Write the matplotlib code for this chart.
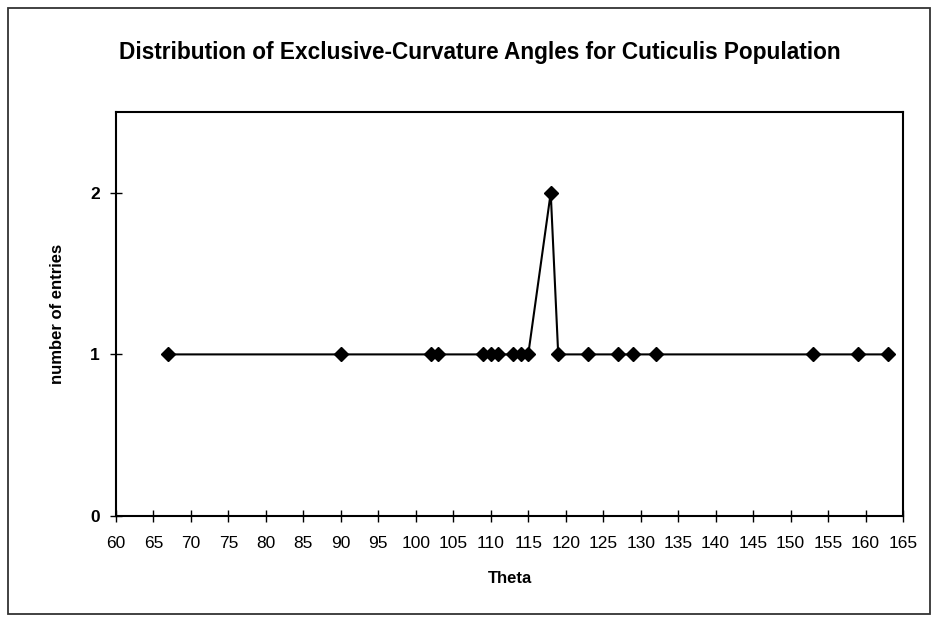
import matplotlib
matplotlib.use("Agg")
import matplotlib.pyplot as plt
from matplotlib.patches import Rectangle
from matplotlib.ticker import FixedLocator

plt.rcParams['font.family'] = ['Liberation Sans', 'DejaVu Sans']

# Angle measurements (degrees) and how many entries fall on each
theta = [67, 90, 102, 103, 109, 110, 111, 113, 114, 115, 118, 119,
         123, 127, 129, 132, 153, 159, 163]
entries = [1, 1, 1, 1, 1, 1, 1, 1, 1, 1, 2, 1,
           1, 1, 1, 1, 1, 1, 1]

x_ticks = list(range(60, 166, 5))
y_ticks = [0, 1, 2]

title = "Distribution of Exclusive-Curvature Angles for Cuticulis Population"
x_label = "Theta"
y_label = "number of entries"

W, H = 936, 619
fig = plt.figure(figsize=(W / 100, H / 100), dpi=100)
fig.patch.set_facecolor("white")

# Outer chart frame
fig.add_artist(Rectangle((8 / W, 1 - 614 / H), (930 - 8) / W, (614 - 8) / H,
                         transform=fig.transFigure, fill=False,
                         edgecolor="#333333", linewidth=1.3))

left, right, top, bottom = 116, 903, 112, 516
ax = fig.add_axes([left / W, 1 - bottom / H, (right - left) / W, (bottom - top) / H])

ax.plot(theta, entries, color="black", linewidth=1.5, marker="D",
        markersize=7, markerfacecolor="black", markeredgecolor="black",
        clip_on=False, zorder=3)

ax.set_xlim(60, 165)
ax.set_ylim(0, 2.5)
ax.xaxis.set_major_locator(FixedLocator(x_ticks))
ax.yaxis.set_major_locator(FixedLocator(y_ticks))
ax.set_xticklabels([str(t) for t in x_ticks])
ax.set_yticklabels([str(t) for t in y_ticks])

for s in ax.spines.values():
    s.set_linewidth(1.5)
    s.set_color("black")

ax.tick_params(axis="both", direction="inout", length=9, width=1.0,
               colors="black", labelsize=12.5)
ax.tick_params(axis="x", pad=10)
ax.tick_params(axis="y", pad=7)
for lbl in ax.get_yticklabels():
    lbl.set_fontweight("bold")

ax.set_xlabel(x_label, fontsize=12, fontweight="bold", labelpad=14)
ax.set_ylabel(y_label, fontsize=12, fontweight="bold", labelpad=18)

fig.text(480 / W, 1 - 53 / H, title, ha="center", va="center",
         fontsize=16.3, fontweight="bold")

fig.savefig("out.png", dpi=100, facecolor="white")
